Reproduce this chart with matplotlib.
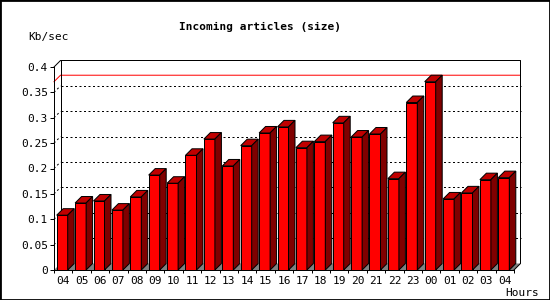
import matplotlib
matplotlib.use("Agg")
import matplotlib.pyplot as plt
from matplotlib.patches import Polygon, Rectangle

hours = ["04", "05", "06", "07", "08", "09", "10", "11", "12", "13", "14", "15",
         "16", "17", "18", "19", "20", "21", "22", "23", "00", "01", "02", "03", "04"]
kb_per_sec = [0.108, 0.132, 0.136, 0.118, 0.144, 0.187, 0.171, 0.226, 0.258,
              0.205, 0.245, 0.270, 0.282, 0.241, 0.253, 0.290, 0.262, 0.268,
              0.180, 0.330, 0.371, 0.140, 0.152, 0.178, 0.182]
yticks = [0, 0.05, 0.1, 0.15, 0.2, 0.25, 0.3, 0.35, 0.4]
ytick_labels = ["0", "0.05", "0.1", "0.15", "0.2", "0.25", "0.3", "0.35", "0.4"]

W, H = 550, 300
n = len(kb_per_sec)
# pixel geometry of the plot box
px_left, px_right_front, px_bottom, px_top_front = 54, 514, 270, 67
depth_px = 6.5
slot_px = (px_right_front - px_left) / n
val_px = (px_bottom - px_top_front) / 0.4
DX = depth_px / slot_px
DY = depth_px / val_px
ymax = 0.4

FONT = "DejaVu Sans Mono"
plt.rcParams["font.family"] = FONT

fig = plt.figure(figsize=(W / 100, H / 100), dpi=100)
ax = fig.add_axes([px_left / W, (H - px_bottom) / H,
                   (px_right_front + depth_px - px_left) / W,
                   (px_bottom - px_top_front + depth_px) / H])
ax.set_xlim(0, n + DX)
ax.set_ylim(0, ymax + DY)
for s in ax.spines.values():
    s.set_visible(False)
ax.patch.set_visible(False)

lw = 0.72
# floor
ax.add_patch(Polygon([(0, 0), (DX, DY), (n + DX, DY), (n, 0)],
                     closed=True, facecolor="#808080", edgecolor="none", zorder=1))

# back wall gridlines
for v in yticks[1:-1]:
    ax.plot([DX, n + DX], [v + DY, v + DY], color="black", lw=lw,
            ls=(0, (2, 2.5)), zorder=1.5, clip_on=False)
    ax.plot([0, DX], [v, v + DY], color="black", lw=lw,
            ls=(0, (2, 2.5)), zorder=1.5, clip_on=False)

# max line
vmax = max(kb_per_sec)
ax.plot([0, DX, n + DX], [vmax, vmax + DY, vmax + DY], color="#ff0000", lw=lw,
        zorder=1.6, clip_on=False)

# box lines
box = dict(color="black", lw=lw, zorder=2, clip_on=False, solid_capstyle="projecting")
ax.plot([0, 0], [0, ymax], **box)
ax.plot([0, n], [0, 0], **box)
ax.plot([0, DX, n + DX, n + DX, n], [ymax, ymax + DY, ymax + DY, DY, 0], **box)
ax.plot([DX, DX], [DY, ymax + DY], **box)

# bars
bar_off = 2.7 / slot_px
bar_w = 11 / slot_px
for i, v in enumerate(kb_per_sec):
    x0 = i + bar_off
    x1 = x0 + bar_w
    ax.add_patch(Polygon([(x0, 0), (x1, 0), (x1, v), (x0, v)], closed=True,
                         facecolor="#ff0000", edgecolor="black", lw=lw, zorder=3))
    ax.add_patch(Polygon([(x0, v), (x0 + DX, v + DY), (x1 + DX, v + DY), (x1, v)],
                         closed=True, facecolor="#c00000", edgecolor="black",
                         lw=lw, zorder=3))
    ax.add_patch(Polygon([(x1, 0), (x1 + DX, DY), (x1 + DX, v + DY), (x1, v)],
                         closed=True, facecolor="#800000", edgecolor="black",
                         lw=lw, zorder=3))

ax.set_yticks(yticks)
ax.set_yticklabels(ytick_labels)
ax.set_xticks([i + 0.5 for i in range(n)])
ax.set_xticklabels(hours)
ax.set_xticks(range(n + 1), minor=True)
ax.tick_params(axis="y", length=3, width=lw, pad=1.5, labelsize=8)
ax.tick_params(axis="x", which="major", length=0, pad=4, labelsize=8)
ax.tick_params(axis="x", which="minor", length=2.5, width=lw)

fig.text(260 / W, 1 - 27 / H, "Incoming articles (size)", ha="center", va="center",
         fontsize=8, fontweight="bold")
fig.text(28 / W, 1 - 37 / H, "Kb/sec", ha="left", va="center", fontsize=8)
fig.text(505 / W, 1 - 293 / H, "Hours", ha="left", va="center", fontsize=8)

fig.add_artist(Rectangle((0, 0), 1, 1, transform=fig.transFigure, fill=False,
                         edgecolor="black", lw=2))

fig.savefig("out.png", dpi=100, facecolor="white")
